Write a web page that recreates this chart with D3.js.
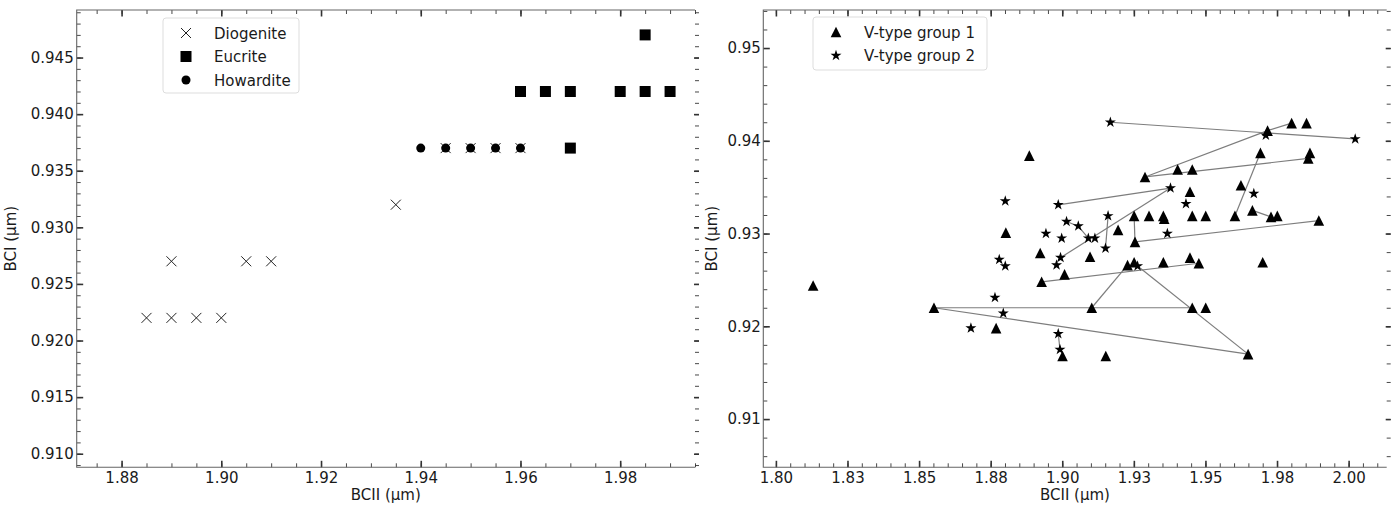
<!DOCTYPE html>
<html>
<head>
<meta charset="utf-8">
<script src="https://cdn.jsdelivr.net/npm/d3@7"></script>
<style>
  body { margin: 0; background: #fff; }
  svg { display: block; font-family: "DejaVu Sans", sans-serif; }
  .tick text { font-size: 15px; fill: #1a1a1a; font-family: "DejaVu Sans", sans-serif; }
</style>
</head>
<body>
<div id="chart"></div>
<script>
// left panel: meteorite classes
const diogenite = [[1.885,0.922],[1.890,0.922],[1.895,0.922],[1.900,0.922],[1.890,0.927],[1.905,0.927],
  [1.910,0.927],[1.935,0.932],[1.945,0.937],[1.950,0.937],[1.955,0.937],[1.960,0.937]];
const eucrite = [[1.960,0.942],[1.965,0.942],[1.970,0.942],[1.980,0.942],[1.985,0.942],[1.990,0.942],
  [1.985,0.947],[1.970,0.937]];
const howardite = [[1.940,0.937],[1.945,0.937],[1.950,0.937],[1.955,0.937],[1.960,0.937]];

// right panel: V-type asteroids
const group1 = [[1.8130,0.9244],[1.8552,0.9220],[1.8769,0.9198],[1.8885,0.9384],[1.8803,0.9301],
  [1.8923,0.9279],[1.8928,0.9248],[1.9008,0.9256],[1.9001,0.9168],[1.9152,0.9168],[1.9097,0.9275],
  [1.9103,0.9220],[1.9195,0.9304],[1.9254,0.9291],[1.9251,0.9319],[1.9303,0.9319],[1.9353,0.9319],
  [1.9356,0.9316],[1.9454,0.9319],[1.9501,0.9319],[1.9289,0.9361],[1.9403,0.9369],[1.9454,0.9369],
  [1.9446,0.9345],[1.9624,0.9352],[1.9664,0.9325],[1.9729,0.9318],[1.9751,0.9319],[1.9603,0.9319],
  [1.9692,0.9387],[1.9717,0.9411],[1.9801,0.9419],[1.9853,0.9419],[1.9865,0.9387],[1.9859,0.9381],
  [1.9896,0.9314],[1.9228,0.9266],[1.9251,0.9269],[1.9353,0.9269],[1.9446,0.9274],[1.9477,0.9268],
  [1.9700,0.9269],[1.9454,0.9220],[1.9501,0.9220],[1.9649,0.9170]];
const group2 = [[1.8801,0.9335],[1.8986,0.9331],[1.9015,0.9313],[1.9056,0.9308],[1.8943,0.9300],
  [1.8998,0.9295],[1.9091,0.9295],[1.9114,0.9295],[1.9160,0.9319],[1.9151,0.9284],[1.8994,0.9274],
  [1.8980,0.9266],[1.8780,0.9272],[1.8801,0.9265],[1.8765,0.9231],[1.8794,0.9214],[1.8681,0.9198],
  [1.8986,0.9192],[1.8992,0.9175],[1.9168,0.9420],[2.0023,0.9402],[1.9711,0.9406],[1.9378,0.9349],
  [1.9432,0.9332],[1.9669,0.9343],[1.9367,0.9300],[1.9263,0.9265]];
// connecting lines between observations
const links = [
  [[1.9168,0.9420],[2.0023,0.9402]],
  [[1.9289,0.9361],[1.9717,0.9411],[1.9801,0.9419]],
  [[1.9289,0.9361],[1.9859,0.9381]],
  [[1.9692,0.9387],[1.9603,0.9319]],
  [[1.9664,0.9325],[1.9729,0.9318]],
  [[1.9254,0.9291],[1.9251,0.9319]],
  [[1.9254,0.9291],[1.9896,0.9314]],
  [[1.8986,0.9331],[1.9378,0.9349]],
  [[1.8994,0.9274],[1.9378,0.9349]],
  [[1.9160,0.9319],[1.9151,0.9284]],
  [[1.9015,0.9313],[1.9056,0.9308],[1.9091,0.9295]],
  [[1.8928,0.9248],[1.9477,0.9268]],
  [[1.8552,0.9220],[1.9454,0.9220]],
  [[1.8552,0.9220],[1.9649,0.9170]],
  [[1.9103,0.9220],[1.9228,0.9266]],
  [[1.9263,0.9265],[1.9649,0.9170]],
  [[1.8986,0.9192],[1.8992,0.9175]]
];

const leftXTicks = [1.88,1.90,1.92,1.94,1.96,1.98];
const leftYTicks = [0.910,0.915,0.920,0.925,0.930,0.935,0.940,0.945];
const rightXTicks = [1.800,1.825,1.850,1.875,1.900,1.925,1.950,1.975,2.000];
const rightXLabels = ["1.80","1.83","1.85","1.88","1.90","1.93","1.95","1.98","2.00"];
const rightYTicks = [0.91,0.92,0.93,0.94,0.95];

const svg = d3.select("#chart").append("svg").attr("width",1399).attr("height",507);

// marker paths
const xMark = {draw(c){ const r=5; c.moveTo(-r,-r); c.lineTo(r,r); c.moveTo(r,-r); c.lineTo(-r,r); }};
const square = {draw(c){ const r=5.5; c.rect(-r,-r,2*r,2*r); }};
const tri = {draw(c){ const r=5.3; c.moveTo(0,-r); c.lineTo(r,r); c.lineTo(-r,r); c.closePath(); }};
const star = {draw(c){
  const R=5.8, ri=R*0.382;
  for(let i=0;i<10;i++){
    const a = -Math.PI/2 + i*Math.PI/5, rr = i%2 ? ri : R;
    i ? c.lineTo(rr*Math.cos(a), rr*Math.sin(a)) : c.moveTo(rr*Math.cos(a), rr*Math.sin(a));
  }
  c.closePath();
}};

function drawAxes(p){
  const x = d3.scaleLinear().domain(p.xDomain).range([p.left,p.right]);
  const y = d3.scaleLinear().domain(p.yDomain).range([p.bottom,p.top]);
  const g = svg.append("g");

  const addAxis = (axis, tr, major) => {
    const a = g.append("g").attr("transform",tr).call(axis);
    a.select(".domain").remove();
    a.selectAll(".tick line").attr("stroke","#333").attr("stroke-width", major ? 1.6 : 0.9);
    return a;
  };
  // major ticks with labels
  addAxis(d3.axisBottom(x).tickValues(p.xTicks).tickSize(-6.5).tickPadding(5)
    .tickFormat((d,i) => p.xLabels ? p.xLabels[i] : d3.format(".2f")(d)), `translate(0,${p.bottom})`, true);
  addAxis(d3.axisLeft(y).tickValues(p.yTicks).tickSize(-6.5).tickPadding(p.yPad)
    .tickFormat(d3.format(p.yFmt)), `translate(${p.left},0)`, true);
  addAxis(d3.axisTop(x).tickValues(p.xTicks).tickSize(-6.5).tickFormat(""), `translate(0,${p.top})`, true);
  addAxis(d3.axisRight(y).tickValues(p.yTicks).tickSize(5).tickFormat(""), `translate(${p.right-1},0)`, true);
  // minor ticks
  addAxis(d3.axisBottom(x).tickValues(p.xMinor).tickSize(-4).tickFormat(""), `translate(0,${p.bottom})`);
  addAxis(d3.axisTop(x).tickValues(p.xMinor).tickSize(-4).tickFormat(""), `translate(0,${p.top})`);
  addAxis(d3.axisLeft(y).tickValues(p.yMinor).tickSize(-4).tickFormat(""), `translate(${p.left},0)`);
  addAxis(d3.axisRight(y).tickValues(p.yMinor).tickSize(4).tickFormat(""), `translate(${p.right},0)`);

  // frame (no right spine)
  g.append("path")
    .attr("d",`M${p.right},${p.top}H${p.left}V${p.bottom}H${p.right}`)
    .attr("fill","none").attr("stroke","#666").attr("stroke-width",1.1);

  g.append("text").attr("x",(p.left+p.right)/2).attr("y",500)
    .attr("text-anchor","middle").style("font-size","15px").attr("fill","#1a1a1a").text("BCII (µm)");
  g.append("text").attr("transform",`translate(${p.left-p.yLabelOff},${(p.top+p.bottom)/2}) rotate(-90)`)
    .attr("text-anchor","middle").style("font-size","15px").attr("fill","#1a1a1a").text("BCI (µm)");
  return {x,y,g};
}

function legend(g, x0, y0, w, h, items){
  const lg = g.append("g");
  lg.append("rect").attr("x",x0).attr("y",y0).attr("width",w).attr("height",h).attr("rx",3)
    .attr("fill","#fff").attr("fill-opacity",0.85).attr("stroke","#ddd");
  items.forEach((it,i) => {
    const cy = y0 + 15 + i*23.5;
    lg.append("path").attr("d",d3.symbol(it.type)()).attr("transform",`translate(${x0+23},${cy})`)
      .attr("fill",it.fill).attr("stroke",it.stroke||"none").attr("stroke-width",1);
    lg.append("text").attr("x",x0+51).attr("y",cy+5.5).style("font-size","15px").attr("fill","#1a1a1a").text(it.label);
  });
}

function scatter(g, sc, data, type, fill, stroke){
  g.append("g").selectAll("path").data(data).join("path")
    .attr("d",d3.symbol(type)())
    .attr("transform",d => `translate(${sc.x(d[0])},${sc.y(d[1])})`)
    .attr("fill",fill).attr("stroke",stroke||"none").attr("stroke-width",1);
}

// ----- left panel
const L = drawAxes({
  left:76.7, right:695, top:10, bottom:467.3,
  xDomain:[1.871,1.995], yDomain:[0.9088,0.9492],
  xTicks:leftXTicks, yTicks:leftYTicks, yFmt:".3f", yPad:3, yLabelOff:61,
  xMinor:d3.range(1.875,1.9951,0.005).map(v=>+v.toFixed(3)),
  yMinor:d3.range(0.909,0.9495,0.001).map(v=>+v.toFixed(3))
});
scatter(L.g, L, diogenite, xMark, "none", "#222");
scatter(L.g, L, eucrite, square, "#000");
scatter(L.g, L, howardite, d3.symbolCircle, "#000");
legend(L.g, 163, 18, 136, 75, [
  {type:xMark, fill:"none", stroke:"#222", label:"Diogenite"},
  {type:square, fill:"#000", label:"Eucrite"},
  {type:d3.symbolCircle, fill:"#000", label:"Howardite"}
]);

// ----- right panel
const R = drawAxes({
  left:763.3, right:1386.7, top:10, bottom:467.3,
  xDomain:[1.7956,2.0133], yDomain:[0.9048,0.9541],
  xTicks:rightXTicks, xLabels:rightXLabels, yTicks:rightYTicks, yFmt:".2f", yPad:2.5, yLabelOff:46,
  xMinor:d3.range(1.800,2.0131,0.005).map(v=>+v.toFixed(3)),
  yMinor:d3.range(0.906,0.9541,0.002).map(v=>+v.toFixed(3))
});

R.g.append("g").selectAll("path").data(links).join("path")
  .attr("d",d3.line().x(d=>R.x(d[0])).y(d=>R.y(d[1])))
  .attr("fill","none").attr("stroke","#7d7d7d").attr("stroke-width",1.2);
scatter(R.g, R, group1, tri, "#000");
scatter(R.g, R, group2, star, "#000");
legend(R.g, 813, 17, 174, 53, [
  {type:tri, fill:"#000", label:"V-type group 1"},
  {type:star, fill:"#000", label:"V-type group 2"}
]);
</script>
</body>
</html>
